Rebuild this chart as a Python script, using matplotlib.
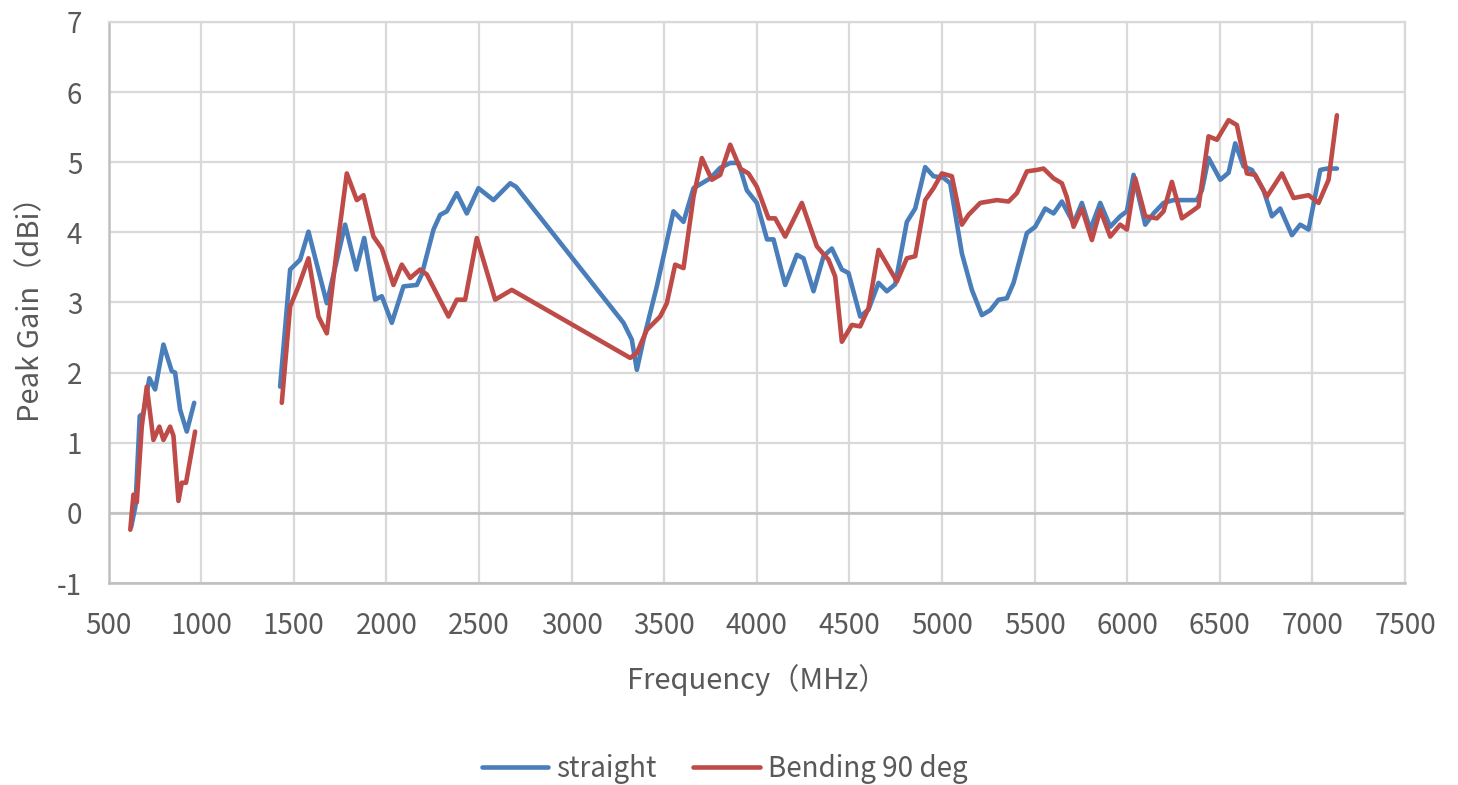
import numpy as np
import matplotlib
matplotlib.use('Agg')
import matplotlib.pyplot as plt

plt.rcParams['font.family'] = ['Noto Sans CJK SC', 'DejaVu Sans']
plt.rcParams['axes.unicode_minus'] = False

# straight, low band (MHz, dBi)
straight_low_f = [622, 645, 668, 688, 720, 751, 796, 841, 859, 886, 922, 962]
straight_low_g = [-0.2, 0.1, 1.38, 1.42, 1.92, 1.76, 2.4, 2.02, 2.0, 1.47, 1.16, 1.57]

# straight, high band
straight_high_f = [1426, 1480, 1534, 1579, 1678, 1777, 1837, 1880, 1939, 1975, 2029, 2092,
                   2164, 2191, 2254, 2290, 2326, 2380, 2434, 2497, 2578, 2668, 2700, 3280,
                   3325, 3352, 3388, 3460, 3550, 3604, 3658, 3748, 3802, 3856, 3901, 3946,
                   4000, 4055, 4090, 4153, 4216, 4252, 4306, 4360, 4405, 4459, 4495, 4558,
                   4603, 4657, 4702, 4747, 4810, 4855, 4909, 4954, 5007, 5044, 5107, 5161,
                   5215, 5260, 5305, 5350, 5386, 5458, 5503, 5557, 5602, 5647, 5710, 5755,
                   5800, 5854, 5908, 5962, 5998, 6034, 6097, 6142, 6196, 6250, 6322, 6376,
                   6403, 6439, 6502, 6547, 6583, 6628, 6673, 6736, 6781, 6826, 6889, 6934,
                   6979, 7042, 7078, 7132]
straight_high_g = [1.8, 3.47, 3.61, 4.01, 2.99, 4.11, 3.47, 3.92, 3.04, 3.09, 2.71, 3.23,
                   3.25, 3.4, 4.04, 4.25, 4.3, 4.56, 4.27, 4.63, 4.46, 4.7, 4.65, 2.71,
                   2.47, 2.04, 2.47, 3.23, 4.3, 4.15, 4.63, 4.77, 4.92, 4.99, 4.99, 4.6,
                   4.42, 3.9, 3.9, 3.25, 3.68, 3.63, 3.16, 3.66, 3.77, 3.47, 3.42, 2.8,
                   2.9, 3.28, 3.16, 3.26, 4.15, 4.34, 4.93, 4.8, 4.78, 4.7, 3.7, 3.18,
                   2.82, 2.89, 3.04, 3.06, 3.28, 3.99, 4.08, 4.34, 4.27, 4.44, 4.13, 4.42,
                   4.04, 4.42, 4.08, 4.23, 4.3, 4.82, 4.11, 4.27, 4.42, 4.46, 4.46, 4.46,
                   4.6, 5.06, 4.75, 4.85, 5.27, 4.94, 4.89, 4.6, 4.23, 4.34, 3.96, 4.11,
                   4.04, 4.89, 4.91, 4.91]

# bending 90 deg, low band
bend_low_f = [617, 634, 652, 679, 706, 742, 774, 796, 832, 850, 877, 895, 918, 967]
bend_low_g = [-0.24, 0.26, 0.15, 1.23, 1.8, 1.04, 1.23, 1.04, 1.23, 1.1, 0.17, 0.43, 0.43, 1.16]

# bending 90 deg, high band
bend_high_f = [1435, 1480, 1525, 1579, 1633, 1678, 1732, 1786, 1840, 1876, 1930, 1975,
               2038, 2083, 2128, 2182, 2218, 2335, 2380, 2425, 2488, 2587, 2677, 3316,
               3352, 3406, 3478, 3514, 3559, 3604, 3658, 3703, 3757, 3802, 3856, 3910,
               3955, 4000, 4063, 4099, 4153, 4243, 4324, 4387, 4423, 4459, 4513, 4558,
               4603, 4657, 4756, 4810, 4855, 4909, 4954, 4999, 5053, 5107, 5143, 5206,
               5296, 5359, 5404, 5458, 5512, 5548, 5602, 5647, 5674, 5710, 5755, 5809,
               5854, 5908, 5962, 5998, 6043, 6097, 6160, 6196, 6241, 6295, 6349, 6385,
               6439, 6484, 6547, 6592, 6646, 6691, 6754, 6835, 6898, 6979, 7033, 7087,
               7132]
bend_high_g = [1.57, 2.94, 3.23, 3.63, 2.8, 2.56, 3.75, 4.84, 4.46, 4.53, 3.94, 3.77,
               3.25, 3.54, 3.35, 3.47, 3.4, 2.8, 3.04, 3.04, 3.92, 3.04, 3.18, 2.21,
               2.28, 2.61, 2.8, 2.99, 3.54, 3.49, 4.51, 5.06, 4.75, 4.82, 5.25, 4.91,
               4.84, 4.65, 4.2, 4.2, 3.94, 4.42, 3.8, 3.61, 3.37, 2.44, 2.68, 2.66,
               2.92, 3.75, 3.3, 3.63, 3.66, 4.46, 4.63, 4.84, 4.8, 4.11, 4.25, 4.42,
               4.46, 4.44, 4.56, 4.87, 4.89, 4.91, 4.77, 4.7, 4.5, 4.08, 4.34, 3.89,
               4.32, 3.94, 4.11, 4.04, 4.77, 4.23, 4.2, 4.3, 4.72, 4.2, 4.3, 4.37,
               5.37, 5.32, 5.6, 5.53, 4.84, 4.82, 4.51, 4.84, 4.49, 4.53, 4.42, 4.75,
               5.67]

x_ticks = np.arange(500, 7501, 500)
y_ticks = np.arange(-1, 8, 1)

# gap between the two bands
straight_f = straight_low_f + [np.nan] + straight_high_f
straight_g = straight_low_g + [np.nan] + straight_high_g
bend_f = bend_low_f + [np.nan] + bend_high_f
bend_g = bend_low_g + [np.nan] + bend_high_g

fig = plt.figure(figsize=(14.58, 7.85), dpi=100)
ax = fig.add_axes([0.0745, 0.2573, 0.8892, 0.7147])

ax.plot(straight_f, straight_g, color='#4a7ebb', linewidth=3.3, solid_joinstyle='round',
        solid_capstyle='round', label='straight', zorder=3)
ax.plot(bend_f, bend_g, color='#be4b48', linewidth=3.3, solid_joinstyle='round',
        solid_capstyle='round', label='Bending 90 deg', zorder=4)

ax.set_xlim(500, 7500)
ax.set_ylim(-1, 7)
ax.set_xticks(x_ticks)
ax.set_yticks(y_ticks)
ax.grid(True, color='#d9d9d9', linewidth=1.6)
ax.axhline(0, color='#bfbfbf', linewidth=1.8, zorder=2)
for side in ['top', 'right']:
    ax.spines[side].set_color('#d9d9d9')
    ax.spines[side].set_linewidth(1.6)
for side in ['left', 'bottom']:
    ax.spines[side].set_color('#bfbfbf')
    ax.spines[side].set_linewidth(1.8)
ax.tick_params(axis='both', length=0, labelsize=20, colors='#595959')
ax.tick_params(axis='x', pad=20)
ax.tick_params(axis='y', pad=19)

ax.set_xlabel('Frequency（MHz）', fontsize=21, color='#595959', labelpad=17)
ax.set_ylabel('Peak Gain（dBi）', fontsize=21, color='#595959', labelpad=8)

fig.legend(loc='lower center', bbox_to_anchor=(0.497, -0.03), ncol=2, frameon=False,
           fontsize=20, handlelength=2.4, columnspacing=1.3, handletextpad=0.3,
           labelcolor='#595959')

plt.savefig('out.png', dpi=100)
